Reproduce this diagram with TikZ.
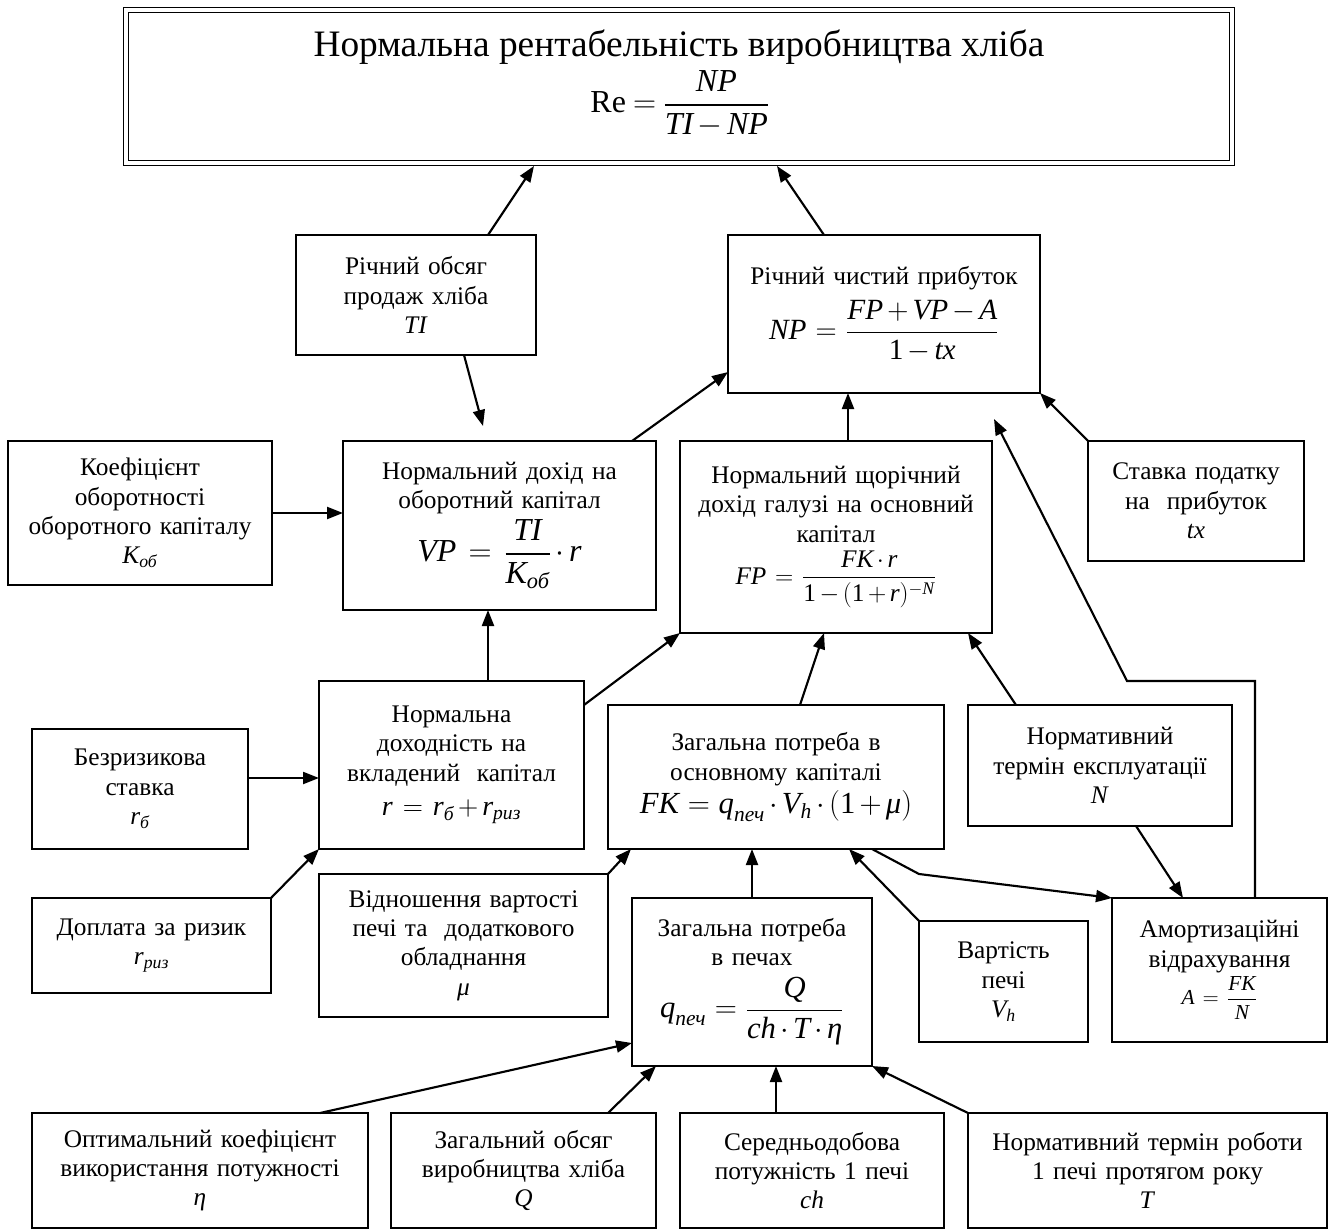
\RequirePackage{fix-cm}
\documentclass[tikz,border=0pt]{standalone}
\usepackage{amsmath}
\usepackage{fontspec}
\setmainfont{Liberation Serif}
\usetikzlibrary{arrows.meta,calc}
\thickmuskip=4mu plus 2mu
\medmuskip=2.5mu
\newcommand\vv[1]{\text{\itshape #1}}
\newcommand\vr[1]{\text{\upshape #1}}
\newcommand\fml[2]{{\fontsize{#1}{#1}\selectfont$\displaystyle #2$}}
\newcommand\mkbox[7][]{%
  \pgfmathsetmacro\bw{(#5-#3)*0.75}%
  \pgfmathsetmacro\bh{(#6-#4)*0.75}%
  \pgfmathsetmacro\btw{(#5-#3)*0.75-3}%
  \pgfmathsetmacro\bcx{(#3+#5)/2}%
  \pgfmathsetmacro\bcy{(#4+#6)/2}%
  \node[box,minimum width=\bw pt,minimum height=\bh pt,text width=\btw pt,#1] (#2) at (\bcx,\bcy) {#7};}
\tikzset{
  box/.style={draw, line width=1.3pt, inner sep=0pt, outer sep=0pt, align=center,
    font=\fontsize{19}{22}\selectfont},
  arr/.style={line width=1.6pt, -{Triangle[length=12pt,width=9pt]}},
}
\begin{document}
\begin{tikzpicture}[x=0.75pt,y=-0.75pt]
\useasboundingbox (0,0) rectangle (1330,1231);
% top box
\mkbox[double, double distance=2.6pt, line width=1.3pt]{top}{126}{10}{1232}{163}{}
\node[font=\fontsize{28}{32}\selectfont, anchor=base] (title) at (679,57) {Нормальна рентабельність виробництва хліба};
\node[font=\fontsize{24}{28}\selectfont] (refml) at (680,104) {$\vr{Re}=\dfrac{\vv{NP}}{\vv{TI}-\vv{NP}}$};
% boxes
\mkbox{TI}{296}{235}{536}{355}{Річний обсяг\\продаж хліба\\\textit{TI}}
\mkbox{NP}{728}{235}{1040}{393}{Річний чистий прибуток\\[7pt] \fml{22}{\vv{NP}=\dfrac{\vv{FP}+\vv{VP}-\vv{A}}{\vr{1}-\vv{tx}}}}
\mkbox{Koef}{8}{441}{272}{585}{Коефіцієнт\\оборотності\\оборотного капіталу\\$\vv{K}_{\vv{об}}$}
\mkbox{VP}{343}{441}{656}{610}{Нормальний дохід на\\оборотний капітал\\[3pt] \fml{24}{\vv{VP}=\dfrac{\vv{TI}}{\vv{K}_{\vv{об}}}\cdot \vv{r}}}
\mkbox{FP}{680}{441}{992}{633}{Нормальний щорічний\\дохід галузі на основний\\капітал\\[5pt] \fml{19}{\vv{FP}=\dfrac{\vv{FK}\cdot\vv{r}}{\vr{1}-(\vr{1}+\vv{r})^{-\vv{N}}}}}
\mkbox{tx}{1088}{441}{1304}{561}{Ставка податку\\на\ \ прибуток\\\textit{tx}}
\mkbox{r}{319}{681}{584}{849}{Нормальна\\доходність на\\вкладений\ \ капітал\\[4pt] \fml{21}{\vv{r}=\vv{r}_{\vv{б}}+\vv{r}_{\vv{риз}}}}
\mkbox{Bez}{32}{729}{248}{849}{Безризикова\\ставка\\$\vv{r}_{\vv{б}}$}
\mkbox{FK}{608}{705}{944}{849}{Загальна потреба в\\основному капіталі\\[3pt] \fml{23}{\vv{FK}=\vv{q}_{\vv{печ}}\cdot\vv{V}_{\vv{h}}\cdot(\vr{1}+\vv{μ})}}
\mkbox{N}{968}{705}{1232}{826}{Нормативний\\термін експлуатації\\\textit{N}}
\mkbox{Dop}{32}{898}{271}{993}{Доплата за ризик\\$\vv{r}_{\vv{риз}}$}
\mkbox{mu}{319}{874}{608}{1017}{Відношення вартості\\печі та\ \ додаткового\\обладнання\\\textit{μ}}
\mkbox{q}{632}{898}{872}{1066}{Загальна потреба\\в печах\\[7pt] \fml{23}{\vv{q}_{\vv{печ}}=\dfrac{\vv{Q}}{\vv{ch}\cdot\vv{T}\cdot\vv{η}}}}
\mkbox{Vh}{919}{921}{1088}{1042}{Вартість\\печі\\$\vv{V}_{\vv{h}}$}
\mkbox{Am}{1112}{898}{1327}{1042}{Амортизаційні\\відрахування\\[2pt] \fml{16}{\vv{A}=\dfrac{\vv{FK}}{\vv{N}}}}
\mkbox{eta}{32}{1113}{368}{1228}{Оптимальний коефіцієнт\\використання потужності\\\textit{η}}
\mkbox{Q}{391}{1113}{656}{1228}{Загальний обсяг\\виробництва хліба\\\textit{Q}}
\mkbox{ch}{680}{1113}{944}{1228}{Середньодобова\\потужність 1 печі\\\textit{ch}}
\mkbox{T}{968}{1113}{1327}{1228}{Нормативний термін роботи\\1 печі протягом року\\\textit{T}}
% connectors
\draw[arr] ($(TI.north west)+(192,0)$) -- ($(top.south west)+(408,3)$);
\draw[arr] ($(NP.north west)+(96,0)$) -- ($(top.south west)+(651,3)$);
\draw[arr] ($(TI.south west)+(168,0)$) -- ($(VP.north west)+(140,-15)$);
\draw[arr] ($(VP.north west)+(289,0)$) -- ($(NP.south west)+(0,-21)$);
\draw[arr] (Koef.east) -- (Koef.east -| VP.west);
\draw[arr] ($(r.north west)+(169,0)$) -- ($(VP.south west)+(145,0)$);
\draw[arr] ($(FP.north west)+(168,0)$) -- ($(NP.south west)+(120,0)$);
\draw[arr] (tx.north west) -- (NP.south east);
\draw[arr] ($(Am.north west)+(143,0)$) -- ++(0,-217) -- ++(-128,0) -- ($(NP.south east)+(-46,26)$);
\draw[arr] ($(r.north east)+(0,24)$) -- (FP.south west);
\draw[arr] ($(FK.north west)+(192,0)$) -- ($(FP.south west)+(144,0)$);
\draw[arr] ($(N.north west)+(48,0)$) -- ($(FP.south east)+(-24,0)$);
\draw[arr] ($(Bez.north east)+(0,49)$) -- ($(r.north west)+(0,97)$);
\draw[arr] (Dop.north east) -- (r.south west);
\draw[arr] (mu.north east) -- ($(FK.south west)+(23,0)$);
\draw[arr] (q.north) -- ($(FK.south west)+(144,0)$);
\draw[arr] (Vh.north west) -- ($(FK.south west)+(241,0)$);
\draw[arr] ($(FK.south west)+(264,0)$) -- ++(47,25) -- (Am.north west);
\draw[arr] ($(N.south west)+(168,0)$) -- ($(Am.north west)+(71,0)$);
\draw[arr] ($(eta.north west)+(288,0)$) -- ($(q.south west)+(0,-23)$);
\draw[arr] ($(Q.north west)+(217,0)$) -- ($(q.south west)+(24,0)$);
\draw[arr] ($(ch.north west)+(96,0)$) -- ($(q.south west)+(144,0)$);
\draw[arr] (T.north west) -- (q.south east);
\end{tikzpicture}
\end{document}
